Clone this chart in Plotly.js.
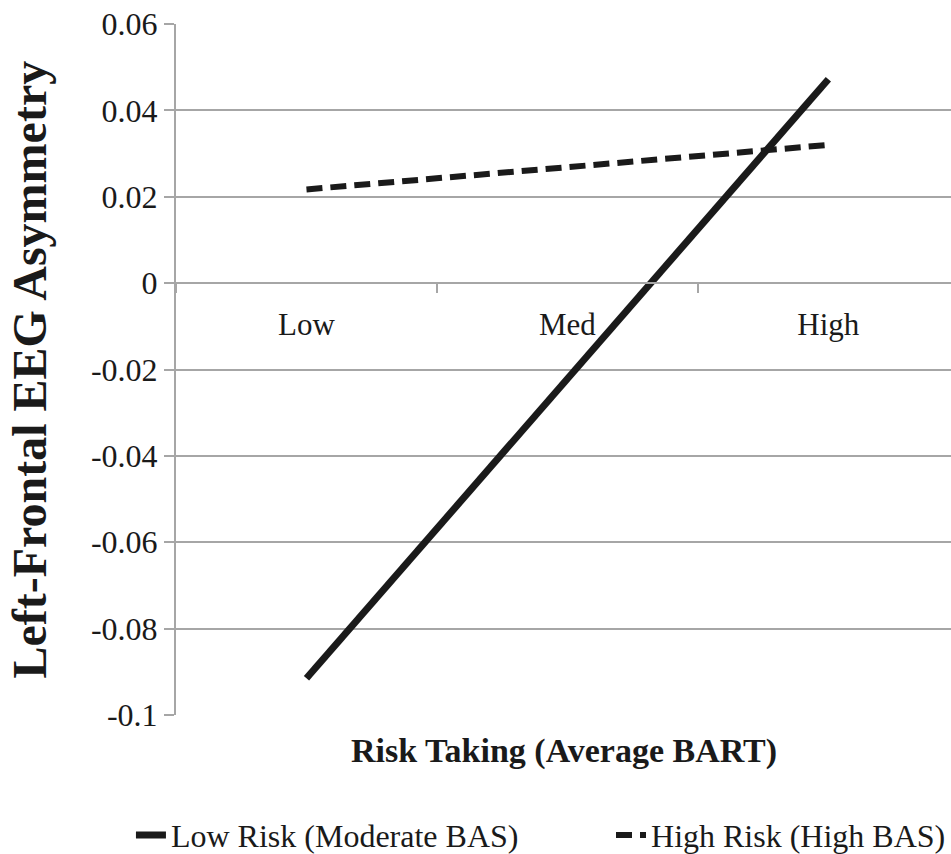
<!DOCTYPE html>
<html>
<head>
<meta charset="utf-8">
<script src="https://cdn.plot.ly/plotly-3.0.1.min.js"></script>
<style>html,body{margin:0;padding:0;background:#fff;}#chart{width:951px;height:854px;}</style>
</head>
<body>
<div id="chart"></div>
<script>
const categories = ["Low", "Med", "High"];
const lowRiskValues = [-0.0915, -0.0222, 0.0472];
const highRiskValues = [0.0217, 0.0268, 0.0320];
const seriesNames = ["Low Risk (Moderate BAS)", "High Risk (High BAS)"];
const yTickVals = [-0.1, -0.08, -0.06, -0.04, -0.02, 0, 0.02, 0.04, 0.06];
const yTickText = ["-0.1", "-0.08", "-0.06", "-0.04", "-0.02", "0", "0.02", "0.04", "0.06"];

const serif = "Liberation Serif, Times New Roman, serif";
const grid = "#a6a6a6";
const ink = "#1a1a1a";

const traces = [
  {
    x: categories, y: lowRiskValues, name: seriesNames[0], type: "scatter", mode: "lines",
    line: {color: ink, width: 7}, legend: "legend"
  },
  {
    x: categories, y: highRiskValues, name: seriesNames[1], type: "scatter", mode: "lines",
    line: {color: ink, width: 6, dash: "16px,8px"}, legend: "legend2"
  }
];

const legendBase = {
  orientation: "h", xref: "container", yref: "container",
  y: 0.022, xanchor: "left", yanchor: "middle",
  font: {family: serif, size: 32, color: ink}, itemwidth: 30
};

const layout = {
  width: 951, height: 854,
  margin: {l: 176, r: 0, t: 24, b: 139},
  paper_bgcolor: "#fff", plot_bgcolor: "#fff",
  font: {family: serif, color: ink},
  showlegend: true,
  legend: Object.assign({}, legendBase, {x: 0.1377}),
  legend2: Object.assign({}, legendBase, {x: 0.6425}),
  xaxis: {
    type: "category", range: [-0.5, 2.47],
    anchor: "free", position: 0.625,
    showline: true, linecolor: grid, linewidth: 2,
    showgrid: false, zeroline: false,
    ticks: "outside", tickson: "boundaries", ticklen: 9, tickwidth: 2, tickcolor: grid,
    ticklabelstandoff: 14,
    tickfont: {family: serif, size: 31, color: ink},
    fixedrange: true
  },
  yaxis: {
    range: [-0.1, 0.06], tickvals: yTickVals, ticktext: yTickText,
    showline: true, linecolor: grid, linewidth: 2,
    showgrid: true, gridcolor: grid, gridwidth: 2, zeroline: false,
    ticks: "outside", ticklen: 10, tickwidth: 2, tickcolor: grid,
    tickfont: {family: serif, size: 32, color: ink},
    fixedrange: true
  },
  annotations: [
    {
      text: "<b>Risk Taking (Average BART)</b>", xref: "paper", yref: "paper",
      x: 0.5, y: -0.052, xanchor: "center", yanchor: "middle", showarrow: false,
      font: {family: serif, size: 34, color: ink}
    },
    {
      text: "<b>Left-Frontal EEG Asymmetry</b>", xref: "paper", yref: "paper",
      x: -0.1884, y: 0.5, xanchor: "center", yanchor: "middle", showarrow: false, textangle: -90,
      font: {family: serif, size: 48, color: ink}
    }
  ]
};

Plotly.newPlot("chart", traces, layout, {displayModeBar: false, staticPlot: true});
</script>
</body>
</html>
